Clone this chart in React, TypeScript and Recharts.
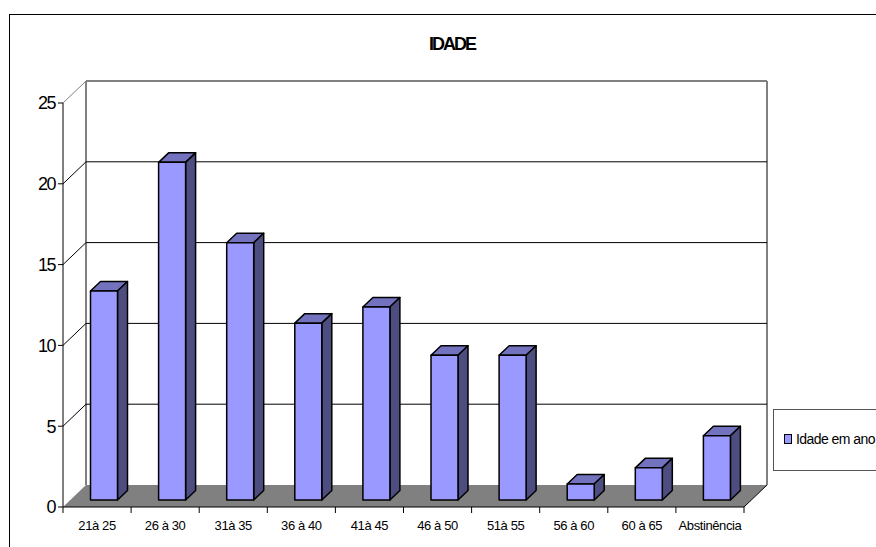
import { BarChart, Bar, XAxis, YAxis, CartesianGrid, Legend } from "recharts";

const categories = ["21à 25", "26 à 30", "31à 35", "36 à 40", "41à 45", "46 à 50", "51à 55", "56 à 60", "60 à 65", "Abstinência"];
const idades = [13, 21, 16, 11, 12, 9, 9, 1, 2, 4];
const yTicks = [0, 5, 10, 15, 20, 25];
const seriesName = "Idade em ano";

const data = categories.map((faixa, i) => ({ faixa, idade: idades[i] }));

const FONT = '"Liberation Sans", Arial, sans-serif';
const LEFT = 63;
const RIGHT = 744;
const TOP = 103;
const BOTTOM = 507;
const BAND = (RIGHT - LEFT) / categories.length;
// depth of the back wall relative to the front axes
const WALL_DX = 23;
const WALL_DY = -22;
const WALL_GRAY = "#808080";

// back wall gridline + the diagonal running to the y axis; floor and walls hang off the zero line
const GridLine = (props: any) => {
  const { x1, x2, y1 } = props;
  const isTop = Math.abs(y1 - TOP) < 1;
  const isZero = Math.abs(y1 - BOTTOM) < 1;
  const stroke = isTop ? WALL_GRAY : "#000";
  const width = isTop ? 2 : 1;
  return (
    <g>
      {isZero && (
        <g>
          <line x1={LEFT + WALL_DX} y1={TOP + WALL_DY} x2={LEFT + WALL_DX} y2={BOTTOM + WALL_DY} stroke={WALL_GRAY} strokeWidth={2} />
          <line x1={RIGHT + WALL_DX} y1={TOP + WALL_DY} x2={RIGHT + WALL_DX} y2={BOTTOM + WALL_DY} stroke={WALL_GRAY} strokeWidth={2} />
          <polygon
            points={`${x1},${y1} ${x2},${y1} ${x2 + WALL_DX},${y1 + WALL_DY} ${x1 + WALL_DX},${y1 + WALL_DY}`}
            fill={WALL_GRAY}
          />
          <line x1={x2} y1={y1} x2={x2 + WALL_DX} y2={y1 + WALL_DY} stroke="#000" />
        </g>
      )}
      {!isZero && <line x1={x1 + WALL_DX} y1={y1 + WALL_DY} x2={x2 + WALL_DX} y2={y1 + WALL_DY} stroke={stroke} strokeWidth={width} />}
      {!isZero && <line x1={x1} y1={y1} x2={x1 + WALL_DX} y2={y1 + WALL_DY} stroke={stroke} />}
    </g>
  );
};

// column with top and side faces, pushed in from the front edge of the floor
const Column = (props: any) => {
  const { width } = props;
  const height = props.height * 0.995;
  const x = props.x + 6.5;
  const y = props.y + props.height - 7 - height;
  const dx = 10;
  const dy = -9.5;
  return (
    <g stroke="#000" strokeWidth={1.5} strokeLinejoin="round">
      <polygon points={`${x},${y} ${x + width},${y} ${x + width + dx},${y + dy} ${x + dx},${y + dy}`} fill="#7272BF" />
      <polygon
        points={`${x + width},${y} ${x + width + dx},${y + dy} ${x + width + dx},${y + height + dy} ${x + width},${y + height}`}
        fill="#4D4D80"
      />
      <rect x={x} y={y} width={width} height={height} fill="#9999FF" />
    </g>
  );
};

// tick marks sit on the category boundaries, not under the labels
const CategoryTick = (props: any) => {
  const { x, y, payload, index } = props;
  const left = x - BAND / 2;
  return (
    <g>
      <line x1={left} y1={BOTTOM} x2={left} y2={BOTTOM + 6} stroke="#000" />
      {index === categories.length - 1 && <line x1={left + BAND} y1={BOTTOM} x2={left + BAND} y2={BOTTOM + 6} stroke="#000" />}
      <text x={x} y={y + 15} textAnchor="middle" fontSize={13} letterSpacing={-0.4} fontFamily={FONT} fill="#000">
        {payload.value}
      </text>
    </g>
  );
};

const LegendBox = () => (
  <div
    style={{
      boxSizing: "border-box",
      width: 103,
      height: 62,
      background: "#fff",
      borderTop: "1px solid #555",
      borderLeft: "1px solid #555",
      borderBottom: "1px solid #555",
      display: "flex",
      alignItems: "center",
      paddingLeft: 10,
      paddingBottom: 2,
      fontFamily: FONT,
      fontSize: 14,
      letterSpacing: -0.55,
      whiteSpace: "nowrap",
      color: "#000",
    }}
  >
    <span style={{ width: 6, height: 8, background: "#9999FF", border: "1px solid #000", marginRight: 4 }} />
    {seriesName}
  </div>
);

export default function App() {
  return (
    <div style={{ position: "absolute", left: 0, top: 0, width: 876, height: 547, overflow: "hidden", background: "#fff" }}>
      <div style={{ position: "absolute", left: 9, top: 14, right: 0, bottom: 0, borderTop: "1px solid #000", borderLeft: "1px solid #000" }} />
      <BarChart
        width={876}
        height={547}
        data={data}
        margin={{ top: TOP, right: 876 - RIGHT, bottom: 0, left: 0 }}
        barCategoryGap={0}
        style={{ position: "absolute", left: 0, top: 0 }}
      >
        <CartesianGrid horizontal={GridLine} vertical={false} />
        <XAxis dataKey="faixa" height={40} interval={0} tickLine={false} axisLine={{ stroke: "#000" }} tick={CategoryTick} />
        <YAxis
          width={LEFT}
          domain={[0, 25]}
          ticks={yTicks}
          interval={0}
          tickSize={5}
          tickMargin={3}
          axisLine={{ stroke: "#000" }}
          tickLine={{ stroke: "#000" }}
          tick={{ fontSize: 18, fontFamily: FONT, fill: "#000", letterSpacing: -1.5 }}
        />
        <Bar dataKey="idade" name={seriesName} barSize={27} shape={Column} isAnimationActive={false} />
        <Legend
          layout="horizontal"
          verticalAlign="middle"
          content={LegendBox}
          wrapperStyle={{ position: "absolute", left: 773, top: 409, width: 103, height: 62, bottom: "auto", right: "auto" }}
        />
        <text x={452} y={50} textAnchor="middle" fontSize={18} fontWeight="bold" fontFamily={FONT} fill="#000" letterSpacing={-2}>
          IDADE
        </text>
      </BarChart>
    </div>
  );
}
